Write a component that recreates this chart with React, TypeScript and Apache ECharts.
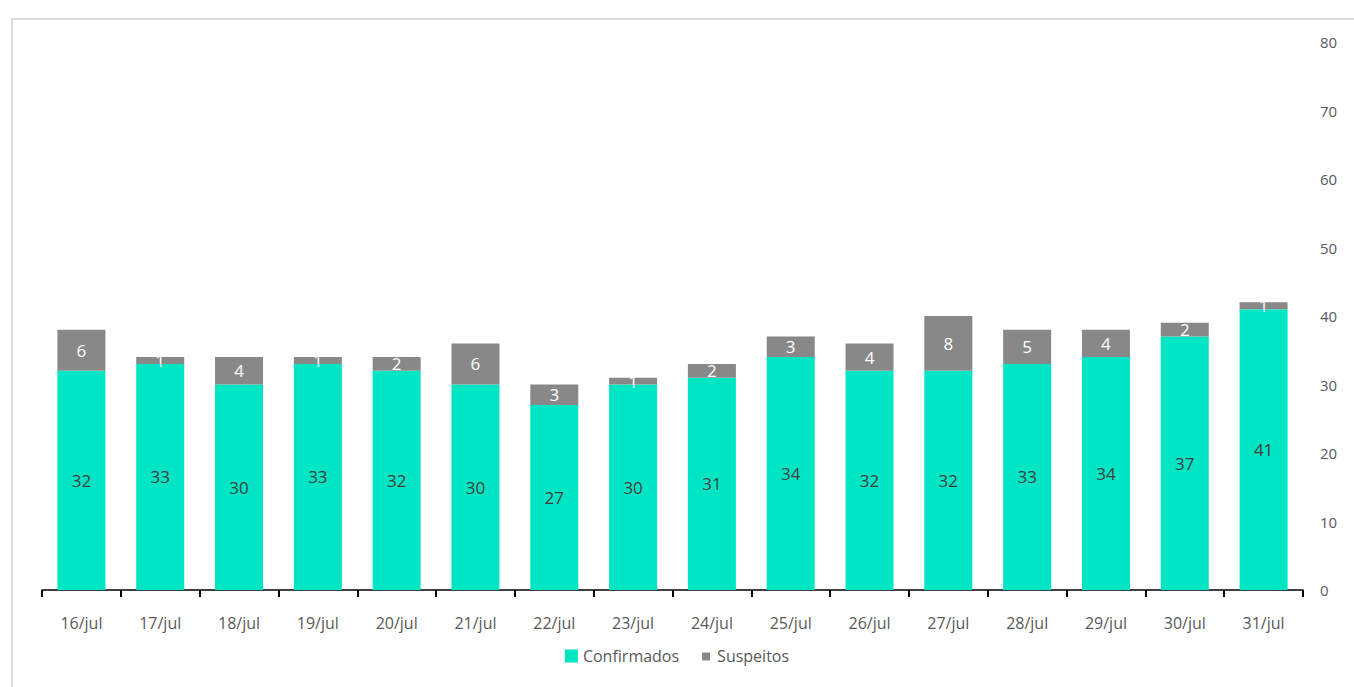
import React, { useEffect, useRef } from "react";
import * as echarts from "echarts";

const categories = ["16/jul", "17/jul", "18/jul", "19/jul", "20/jul", "21/jul", "22/jul", "23/jul", "24/jul", "25/jul", "26/jul", "27/jul", "28/jul", "29/jul", "30/jul", "31/jul"];
const confirmados = [32, 33, 30, 33, 32, 30, 27, 30, 31, 34, 32, 32, 33, 34, 37, 41];
const suspeitos = [6, 1, 4, 1, 2, 6, 3, 1, 2, 3, 4, 8, 5, 4, 2, 1];
const yTicks = { min: 0, max: 80, interval: 10 };

const FONT = "'Open Sans', 'Noto Sans', sans-serif";

export default function App() {
  const ref = useRef<HTMLDivElement>(null);
  useEffect(() => {
    document.body.style.margin = "0";
    const chart = echarts.init(ref.current!, null, { renderer: "svg" });
    chart.setOption({
      animation: false,
      backgroundColor: "#ffffff",
      textStyle: { fontFamily: FONT },
      graphic: [
        {
          type: "rect",
          shape: { x: 12, y: 19, width: 1400, height: 700 },
          style: { fill: "none", stroke: "#dcdcdc", lineWidth: 2 },
          silent: true,
          z: -1,
        },
      ],
      grid: { left: 42, right: 51, top: 42, bottom: 97, containLabel: false },
      legend: {
        bottom: 18,
        left: "center",
        itemWidth: 13,
        itemHeight: 13,
        itemGap: 20,
        icon: "rect",
        textStyle: { color: "#595959", fontSize: 16, fontFamily: FONT },
        data: [
          { name: "Confirmados", itemStyle: { color: "#00E5C3" } },
          { name: "Suspeitos", icon: "path://M0,0M13,13M3,3h8v8h-8z", itemStyle: { color: "#888888" } },
        ],
      },
      xAxis: {
        type: "category",
        data: categories,
        axisLine: { lineStyle: { color: "#000000", width: 1.5 } },
        axisTick: { show: true, alignWithLabel: false, length: 7, lineStyle: { color: "#000000", width: 2 } },
        axisLabel: { color: "#595959", fontSize: 16, margin: 25, fontFamily: FONT },
      },
      yAxis: {
        type: "value",
        position: "right",
        min: yTicks.min,
        max: yTicks.max,
        interval: yTicks.interval,
        axisLine: { show: false },
        axisTick: { show: false },
        splitLine: { show: false },
        axisLabel: { color: "#595959", fontSize: 15, margin: 17, fontFamily: FONT },
      },
      series: [
        {
          name: "Confirmados",
          type: "bar",
          stack: "total",
          barWidth: 48,
          data: confirmados,
          itemStyle: { color: "#00E5C3" },
          label: { show: true, position: "inside", color: "#404040", fontSize: 17, fontFamily: FONT },
        },
        {
          name: "Suspeitos",
          type: "bar",
          stack: "total",
          barWidth: 48,
          data: suspeitos,
          itemStyle: { color: "#888888" },
          label: { show: true, position: "inside", color: "#ffffff", fontSize: 17, fontFamily: FONT },
        },
      ],
    });
    return () => chart.dispose();
  }, []);
  return <div ref={ref} style={{ width: 1354, height: 687 }} />;
}
